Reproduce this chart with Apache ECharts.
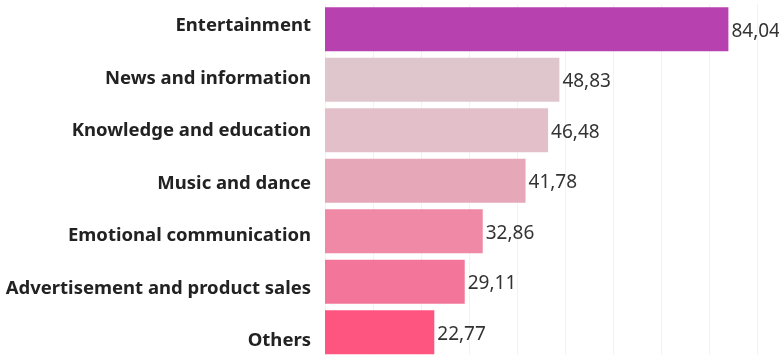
<!DOCTYPE html>
<html><head><meta charset="utf-8">
<script src="https://cdn.jsdelivr.net/npm/echarts@6/dist/echarts.min.js"></script>
<style>html,body{margin:0;padding:0;background:#fff}#c{width:779px;height:355px}</style>
</head><body><div id="c"></div>
<script>
const categories = ["Entertainment","News and information","Knowledge and education","Music and dance","Emotional communication","Advertisement and product sales","Others"];
const values = [84.04,48.83,46.48,41.78,32.86,29.11,22.77];
const colors = ["#b841b0","#dfc6cd","#e2bfc9","#e6a8b9","#ef89a5","#f4759a","#fe5480"];

const chart = echarts.init(document.getElementById('c'));
chart.setOption({
  animation:false,
  grid:[
    {left:325,right:22,top:4,bottom:-2.5,containLabel:false,outerBoundsMode:'none'},
    {left:325,right:22,top:0,bottom:-12,containLabel:false,outerBoundsMode:'none'}
  ],
  xAxis:[
    {type:'value',gridIndex:0,min:0,max:90,interval:10,
      axisLabel:{show:false},axisLine:{show:false},axisTick:{show:false},
      splitLine:{show:true,lineStyle:{color:'#f2f2f2',width:1}}},
    {type:'value',gridIndex:1,min:0,max:90,show:false}
  ],
  yAxis:[
    {type:'category',gridIndex:0,data:categories,inverse:true,
      axisLine:{show:false},axisTick:{show:false},axisLabel:{show:false}},
    {type:'category',gridIndex:1,data:categories,inverse:true,
      axisLine:{show:false},axisTick:{show:false},splitLine:{show:false},
      axisLabel:{margin:14,fontSize:18.5,fontWeight:'bold',color:'#222',fontFamily:'Noto Sans'}}
  ],
  series:[{type:'bar',xAxisIndex:0,yAxisIndex:0,barCategoryGap:'13%',
    data:values.map((v,i)=>({value:v,itemStyle:{color:colors[i]}})),
    label:{show:true,position:'right',distance:3,fontSize:19,color:'#333',fontFamily:'Noto Sans',
      offset:[0,2],
      formatter:p=>p.value.toFixed(2).replace('.',',')}}]
});
</script></body></html>
